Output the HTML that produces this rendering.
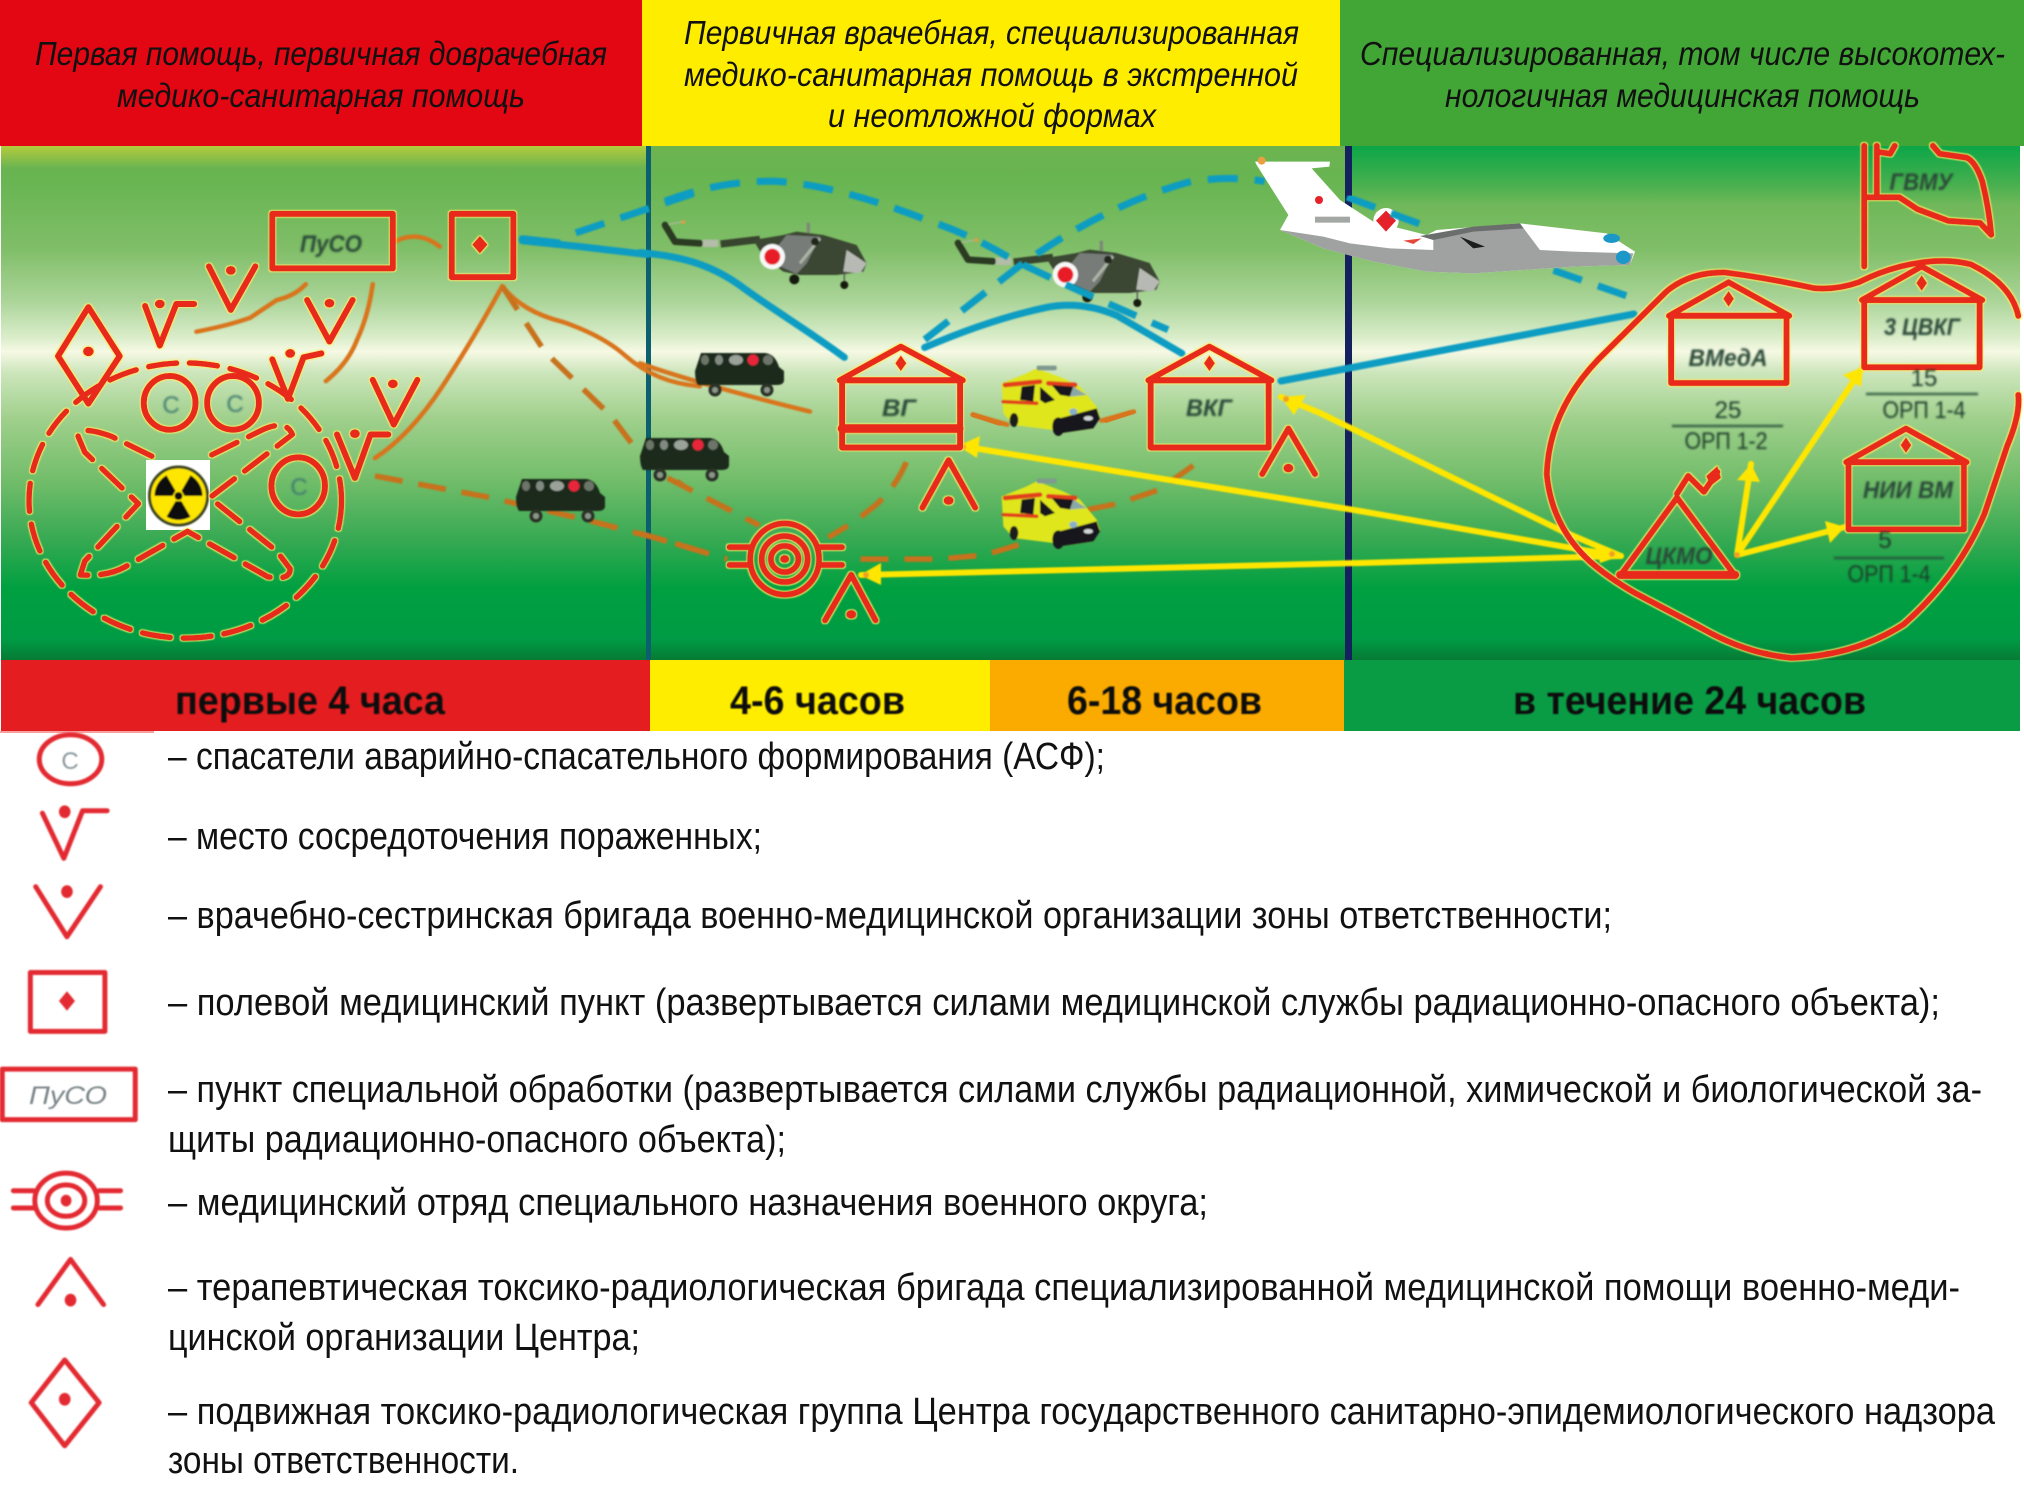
<!DOCTYPE html>
<html lang="ru"><head><meta charset="utf-8"><title>Схема</title>
<style>
html,body{margin:0;padding:0;background:#fff}
svg{display:block}
text{font-family:"Liberation Sans","DejaVu Sans",sans-serif}
.n *,#house *{vector-effect:non-scaling-stroke}
.r{fill:none;stroke:#e8291a;stroke-width:6;stroke-linecap:round;stroke-linejoin:round}
.rf{fill:#e8291a}
.o{fill:none;stroke:#d9741a;stroke-width:4.5;stroke-linecap:round;stroke-linejoin:round}
.od{fill:none;stroke:#c7721b;stroke-width:5.5;stroke-dasharray:28 16}
.rd{fill:none;stroke:#e8291a;stroke-width:5.5;stroke-dasharray:28 13;stroke-linecap:round;stroke-linejoin:round}
.t{fill:none;stroke:#0b9cc2;stroke-width:7;stroke-linecap:round;stroke-linejoin:round}
.td{fill:none;stroke:#0b9cc2;stroke-width:7;stroke-dasharray:30 17}
.y{fill:none;stroke:#ffe600;stroke-width:6;stroke-linecap:round}
.l{font-size:38px;fill:#111}
.h{font-size:33px;font-style:italic;fill:#111}
.b{font-size:40px;font-weight:bold;fill:#111}
.d{font-size:24px;font-style:italic;fill:#2a4a38;text-anchor:middle;font-weight:bold}
.e{font-size:24px;fill:#1d3a2a;text-anchor:middle}
.lg{fill:none;stroke:#e32b30;stroke-width:5;stroke-linecap:round;stroke-linejoin:round}
</style></head>
<body>
<svg xmlns="http://www.w3.org/2000/svg" width="2024" height="1489" viewBox="0 0 2024 1489">
<defs>
<linearGradient id="g" gradientUnits="userSpaceOnUse" x1="0" y1="146" x2="0" y2="660">
<stop offset="0" stop-color="#6cb350"/><stop offset=".07" stop-color="#68b552"/>
<stop offset=".2" stop-color="#80be68"/><stop offset=".3" stop-color="#aad498"/><stop offset=".37" stop-color="#d8ecc8"/>
<stop offset=".4" stop-color="#f6f9e4"/><stop offset=".44" stop-color="#cde6bc"/><stop offset=".53" stop-color="#a0d08c"/>
<stop offset=".65" stop-color="#72bd6a"/><stop offset=".76" stop-color="#3aaa54"/><stop offset=".86" stop-color="#00a040"/>
<stop offset=".96" stop-color="#009b44"/><stop offset="1" stop-color="#077a34"/>
</linearGradient>
<linearGradient id="gl" gradientUnits="userSpaceOnUse" x1="0" y1="146" x2="0" y2="168">
<stop offset="0" stop-color="#b4cc3c"/><stop offset="1" stop-color="#b4cc3c" stop-opacity="0"/>
</linearGradient>
<linearGradient id="gr" gradientUnits="userSpaceOnUse" x1="0" y1="146" x2="0" y2="205">
<stop offset="0" stop-color="#0ba648"/><stop offset="1" stop-color="#0ba648" stop-opacity="0"/>
</linearGradient>
<filter id="h" x="-3%" y="-3%" width="106%" height="106%">
<feMorphology in="SourceAlpha" operator="dilate" radius="1" result="a"/>
<feGaussianBlur in="a" stdDeviation=".6" result="b"/>
<feFlood flood-color="#ffec66" flood-opacity=".75"/>
<feComposite in2="b" operator="in" result="c"/>
<feGaussianBlur in="SourceGraphic" stdDeviation=".35" result="s"/>
<feMerge><feMergeNode in="c"/><feMergeNode in="s"/></feMerge>
</filter>
<filter id="bl" x="-5%" y="-20%" width="110%" height="140%"><feGaussianBlur stdDeviation=".9"/></filter>
<filter id="bs" x="-5%" y="-5%" width="110%" height="110%"><feGaussianBlur stdDeviation=".7"/></filter>
<filter id="bt" x="-5%" y="-5%" width="110%" height="110%"><feGaussianBlur stdDeviation="1"/></filter>
<g id="heli">
<path d="M45 75L100 65" stroke="#a8b898" stroke-width="4" fill="none"/>
<circle cx="100" cy="66" r="6" fill="#d9a040"/>
<path d="M45 75L75 125L150 130" stroke="#2c3a24" stroke-width="20" fill="none" stroke-linecap="round" stroke-linejoin="round"/>
<path d="M158 130H205" stroke="#b4bcaa" stroke-width="22" fill="none"/>
<path d="M212 132L330 118" stroke="#39452e" stroke-width="22" fill="none"/>
<path d="M475 68V102" stroke="#7f8878" stroke-width="10" fill="none"/>
<path d="M310 120L400 105L440 95L520 105L620 135L650 190L640 215L560 225L450 225L400 215L340 170Z" fill="#3a4630"/>
<path d="M410 105L510 110L470 190L440 222L350 180Z" fill="#777c78"/>
<path d="M510 115L450 190" stroke="#aab4a4" stroke-width="9" fill="none"/>
<path d="M590 150L650 190L630 220L580 215Z" fill="#b7bab4"/>
<circle cx="495" cy="125" r="12" fill="#22281e"/>
<circle cx="367" cy="170" r="38" fill="#f8f8f8"/>
<circle cx="367" cy="170" r="24" fill="#e81e25"/>
<circle cx="433" cy="238" r="15" fill="#141a10"/>
<path d="M583 215V245" stroke="#555" stroke-width="4"/>
<circle cx="583" cy="255" r="12" fill="#141a10"/>
</g>
<g id="van">
<path d="M6 2H70Q80 3 84 16L89 20V30Q88 34 82 34H3Q0 30 0 20Z" fill="#1b2a1a"/>
<ellipse cx="10" cy="9" rx="4" ry="5" fill="#6c7468"/><ellipse cx="24" cy="9" rx="4" ry="5" fill="#818a80"/>
<ellipse cx="41" cy="9" rx="7" ry="5" fill="#9aa29a"/><ellipse cx="73" cy="9" rx="5" ry="5" fill="#6c7468"/>
<circle cx="58" cy="9" r="5.5" fill="#e8283a"/>
<circle cx="20" cy="39" r="6.5" fill="#2a3228"/><circle cx="20" cy="39" r="3" fill="#8a9488"/>
<circle cx="72" cy="39" r="6.5" fill="#2a3228"/><circle cx="72" cy="39" r="3" fill="#8a9488"/>
</g>
<g id="amb">
<path d="M65 100L140 70L170 55L250 85L300 110L350 170L360 200L340 235L240 250L220 240L100 225L70 190Z" fill="#dfe61e"/>
<path d="M75 105L180 95M205 100L285 105" stroke="#e2401e" stroke-width="14" stroke-linecap="round" fill="none"/>
<path d="M70 155L170 160" stroke="#e2401e" stroke-width="11" stroke-linecap="round" fill="none"/>
<path d="M125 110L165 105L160 155L120 150Z" fill="#12181c"/>
<path d="M180 110L225 150L195 160L180 150Z" fill="#12181c"/>
<path d="M215 105L280 110L270 140L240 135Z" fill="#12181c"/>
<path d="M280 110L320 135L270 140Z" fill="#8aa8a8"/>
<path d="M220 210L350 175L360 205L340 235L240 250Z" fill="#12161a"/>
<ellipse cx="325" cy="205" rx="14" ry="7" fill="#cfd4d4"/>
<ellipse cx="280" cy="185" rx="12" ry="10" fill="#8ab0c8"/>
<ellipse cx="235" cy="230" rx="18" ry="28" fill="#12161a"/>
<ellipse cx="102" cy="210" rx="13" ry="21" fill="#1a1f1c"/>
<rect x="170" y="47" width="60" height="14" rx="5" fill="#7f9a90"/>
</g>
<g id="house">
<path d="M-133 85L0 0L135 85M-133 85H135" />
<rect x="-128" y="85" width="257" height="170"/>
<path d="M0 22L12 42L0 62L-12 42Z" fill="#e8291a" stroke="none"/>
</g>
</defs>

<!-- header -->
<rect x="0" y="0" width="642" height="146" fill="#e30613"/>
<rect x="642" y="0" width="698" height="146" fill="#ffed00"/>
<rect x="1340" y="0" width="684" height="146" fill="#41a635"/>
<text class="h" x="35" y="65" textLength="572" lengthAdjust="spacingAndGlyphs">Первая помощь, первичная доврачебная</text>
<text class="h" x="117" y="107" textLength="408" lengthAdjust="spacingAndGlyphs">медико-санитарная помощь</text>
<text class="h" x="684" y="44" textLength="615" lengthAdjust="spacingAndGlyphs">Первичная врачебная, специализированная</text>
<text class="h" x="684" y="86" textLength="614" lengthAdjust="spacingAndGlyphs">медико-санитарная помощь в экстренной</text>
<text class="h" x="828" y="127" textLength="328" lengthAdjust="spacingAndGlyphs">и неотложной формах</text>
<text class="h" x="1360" y="65" textLength="645" lengthAdjust="spacingAndGlyphs">Специализированная, том числе высокотех-</text>
<text class="h" x="1445" y="107" textLength="475" lengthAdjust="spacingAndGlyphs">нологичная медицинская помощь</text>

<!-- main band -->
<rect x="1" y="146" width="2019" height="515" fill="url(#g)"/>
<rect x="1" y="146" width="645" height="22" fill="url(#gl)"/>
<rect x="1352" y="146" width="668" height="59" fill="url(#gr)"/>
<rect x="646" y="146" width="5" height="515" fill="#0c5f6e"/>
<rect x="1345" y="146" width="7" height="515" fill="#14215e"/>

<!-- bottom bars -->
<rect x="1" y="660" width="649" height="71" fill="#e41e20"/>
<rect x="650" y="660" width="340" height="71" fill="#ffed00"/>
<rect x="990" y="660" width="354" height="71" fill="#fbab00"/>
<rect x="1344" y="660" width="676" height="71" fill="#0a9b45"/>
<rect x="0" y="731" width="154" height="2" fill="#f6a0a0"/>
<g filter="url(#bl)">
<text class="b" x="175" y="714" textLength="270" lengthAdjust="spacingAndGlyphs">первые 4 часа</text>
<text class="b" x="730" y="714" textLength="175" lengthAdjust="spacingAndGlyphs">4-6 часов</text>
<text class="b" x="1067" y="714" textLength="195" lengthAdjust="spacingAndGlyphs">6-18 часов</text>
<text class="b" x="1513" y="714" textLength="353" lengthAdjust="spacingAndGlyphs">в течение 24 часов</text>
</g>

<!-- helicopters, lower layer -->
<g filter="url(#bs)">
<use href="#heli" transform="matrix(.3333 0 0 .3333 650 200)"/>
<use href="#heli" transform="matrix(.3333 0 0 .3333 943 218)"/>
</g>

<!-- orange lines -->
<g class="n" filter="url(#bs)">
<g transform="matrix(.4464 0 0 .3954 0 130)">
<path class="o" d="M440 510Q510 495 560 475Q600 445 620 430Q660 420 685 390"/>
<path class="o" d="M730 635Q780 590 800 530Q825 470 835 390"/>
<path class="o" d="M840 830Q920 770 990 650Q1060 530 1125 395"/>
<path class="o" d="M1125 395Q1170 460 1260 485Q1350 520 1400 570Q1470 640 1568 648"/>
<path class="o" d="M880 285Q935 250 985 295"/>
<path class="od" d="M1125 395L1220 560L1370 725L1430 815L1530 900"/>
<path class="od" d="M840 875L1100 930L1310 985L1480 1035L1600 1075"/>
</g>
<g transform="matrix(.4592 0 0 .3954 640 130)">
<path class="o" d="M0 590Q120 640 370 712"/>
<path class="o" d="M725 720L800 745M1005 735L1075 712"/>
<path class="od" d="M60 880L260 1000"/>
<path class="od" d="M0 1020L190 1085"/>
<path class="od" d="M580 840Q550 920 495 965Q470 990 410 1030"/>
<path class="od" d="M480 1085H650L750 1075L850 1040"/>
<path class="od" d="M975 960L1040 945L1130 910L1215 840"/>
</g>
</g>

<!-- teal lines -->
<g class="n" filter="url(#bs)">
<g transform="matrix(.4464 0 0 .3954 0 130)">
<path class="t" d="M1170 280L1300 295L1450 315"/>
<path class="t" d="M1170 275L1250 285"/>
<path class="td" d="M1290 260L1568 155"/>
</g>
<g transform="matrix(.4592 0 0 .3954 640 130)">
<path class="t" d="M0 310C100 320 160 345 220 395C290 455 370 510 445 575"/>
<path class="td" d="M55 180Q180 125 300 130Q430 140 630 230Q720 265 800 320Q880 370 1150 505"/>
<path class="td" d="M620 530L825 345Q1010 190 1200 130Q1290 115 1360 130"/>
<path class="t" d="M620 550Q760 480 880 450Q960 430 1040 470L1180 565"/>
</g>
<path class="t" d="M1281 381L1634 314"/>
<g transform="matrix(.449 0 0 .3954 1320 130)">
<path class="td" d="M520 355L710 430"/>
</g>
</g>

<!-- plane -->
<g filter="url(#bs)" transform="matrix(.3333 0 0 .3333 1240 150)">
<path d="M45 35L270 35L268 50L215 55L300 150L400 215L560 255L590 240L840 220L1100 250L1185 305L1170 345L1000 350L700 370L560 365L400 335L250 295L120 240L145 195L50 45Z" fill="#fff"/>
<path d="M120 240L250 260L330 280L450 295L580 300L580 270L700 235L840 220L900 300L1000 305L1180 310L1170 345L1000 350L700 370L560 365L400 335L250 295Z" fill="#9fa2a0"/>
<path d="M540 258L700 230L840 220L850 235L700 245L580 270Z" fill="#6a6e6c"/>
<circle cx="438" cy="212" r="38" fill="#fff"/>
<path d="M438 182L468 212L438 245L408 212Z" fill="#e5222a"/>
<circle cx="237" cy="150" r="12" fill="#e5222a"/>
<path d="M490 272L545 265L520 282Z" fill="#e5483a"/>
<path d="M660 260L735 290L700 295Z" fill="#1c1c1c"/>
<rect x="225" y="200" width="105" height="18" fill="#a4a8a4"/>
<circle cx="65" cy="32" r="12" fill="#e8a040"/>
<ellipse cx="1115" cy="265" rx="25" ry="14" fill="#1e98c8"/>
<ellipse cx="1150" cy="322" rx="22" ry="20" fill="#1e98c8"/>
</g>
<g class="n" filter="url(#bs)"><path class="td" d="M1347 197L1428 227"/></g>

<!-- vans and ambulances -->
<g filter="url(#bs)">
<use href="#van" x="516" y="477"/>
<use href="#van" x="695" y="351"/>
<use href="#van" x="640" y="436"/>
<g transform="matrix(.3333 0 0 .3333 980 350)"><use href="#amb"/></g>
<g transform="matrix(.3333 0 0 .3333 980 463)"><use href="#amb"/></g>
</g>
<g class="n" filter="url(#bs)" transform="matrix(.4592 0 0 .3954 640 130)">
<path class="o" d="M725 720L790 745M1015 735L1075 712"/>
</g>

<!-- yellow arrows -->
<g filter="url(#bs)">
<path class="y" d="M1281 397L1320 413L1562 531L1621 556"/>
<path class="y" d="M961 446L1360 511L1589 551L1621 556"/>
<path class="y" d="M861 575L1360 563L1621 556"/>
<path class="y" d="M1737 555L1751 464M1737 555L1863 367M1737 555L1845 527"/>
<g fill="#ffe600">
<path d="M1281 397L1306 395L1294 415Z"/>
<path d="M958 446L980 436L977 458Z"/>
<path d="M860 575L881 563L881 585Z"/>
<path d="M1621 556L1595 545L1600 563Z"/>
<path d="M1751 464L1737 480L1760 482Z"/>
<path d="M1863 367L1843 375L1861 387Z"/>
<path d="M1845 527L1825 521L1830 543Z"/>
</g>
<g fill="#f0a020">
<circle cx="1286" cy="399" r="3"/><circle cx="963" cy="447" r="3"/><circle cx="866" cy="575" r="3"/><circle cx="1612" cy="554" r="3"/><circle cx="1737" cy="555" r="3"/>
</g>
</g>

<!-- radiation sign -->
<rect x="146" y="460" width="64" height="70" fill="#fff"/>
<g filter="url(#bs)">
<circle cx="178.5" cy="496" r="29" fill="#ffe600" stroke="#3a4420" stroke-width="3"/>
<path d="M175.5 501.2L166.5 516.8A24 24 0 0 0 190.5 516.8L181.5 501.2Z" fill="#111"/>
<path d="M172.5 496L154.5 496A24 24 0 0 1 166.5 475.2L175.5 490.8Z" fill="#111"/>
<path d="M184.5 496L202.5 496A24 24 0 0 0 190.5 475.2L181.5 490.8Z" fill="#111"/>
<circle cx="178.5" cy="496" r="4" fill="#111"/>
</g>

<!-- red symbols with halo -->
<g class="n" filter="url(#h)">
<g transform="matrix(.4464 0 0 .3954 0 130)">
<ellipse class="rd" cx="415" cy="937" rx="350" ry="348"/>
<path class="rd" d="M340 825L250 775Q175 745 175 775L190 815L310 945L190 1090L180 1125Q240 1130 280 1105L420 1015L600 1130Q650 1140 650 1110L620 1065L470 930L655 770Q640 730 585 760L450 835"/>
<rect class="r" x="610" y="212" width="270" height="138"/>
<rect class="r" x="1012" y="212" width="138" height="160"/>
<path class="rf" d="M1075 268L1092 290L1075 312L1058 290Z"/>
<path class="r" d="M468 345L517 455L572 345M688 430L738 535L790 430M835 632L882 745L935 632"/>
<path class="r" d="M325 445L358 545L395 440H435M610 580L645 680L680 575L720 565M755 770L795 880L830 770H870"/>
<circle class="rf" cx="517" cy="355" r="11"/><circle class="rf" cx="738" cy="438" r="11"/><circle class="rf" cx="880" cy="642" r="11"/>
<circle class="rf" cx="358" cy="440" r="11"/><circle class="rf" cx="650" cy="565" r="11"/><circle class="rf" cx="795" cy="768" r="11"/>
<path class="r" d="M198 448L268 572L198 692L130 572Z"/><circle class="rf" cx="198" cy="560" r="12"/>
<ellipse class="r" cx="380" cy="690" rx="58" ry="68"/><ellipse class="r" cx="522" cy="690" rx="58" ry="68"/><ellipse class="r" cx="668" cy="900" rx="60" ry="72"/>
</g>
<g transform="matrix(.4592 0 0 .3954 640 130)" class="r">
<use href="#house" x="568" y="548"/>
<use href="#house" x="1240" y="548"/>
<path d="M440 755H695" style="stroke-width:9"/>
<path d="M615 955L672 835L730 955M1355 870L1412 755L1470 870M403 1240L460 1125L513 1240"/>
<circle class="rf" style="stroke:none" cx="672" cy="937" r="11"/><circle class="rf" style="stroke:none" cx="1412" cy="855" r="11"/><circle class="rf" style="stroke:none" cx="460" cy="1225" r="11"/>
<ellipse cx="315" cy="1085" rx="75" ry="90"/><ellipse cx="315" cy="1085" rx="50" ry="58"/><ellipse cx="315" cy="1085" rx="30" ry="33"/>
<circle class="rf" style="stroke:none" cx="315" cy="1085" r="10"/>
<path d="M195 1055H240M195 1100H240M390 1055H440M390 1100H440"/>
</g>
<g transform="matrix(.449 0 0 .3954 1320 130)" class="r">
<path d="M1555 470Q1540 390 1450 340Q1400 325 1340 335Q1270 345 1200 385Q1150 405 1100 400Q1000 375 900 360Q820 360 770 410L620 580Q510 710 505 870Q515 1000 600 1090Q640 1130 700 1170L850 1260Q950 1325 1050 1335Q1190 1330 1300 1250Q1420 1130 1480 970L1530 800Q1560 720 1555 670"/>
<path d="M1212 40V345M1240 40V165M1212 170H1290L1330 200L1400 230L1470 235L1495 265Q1490 200 1475 130Q1460 80 1440 70L1380 60L1365 40M1240 55L1270 60L1280 40"/>
<use href="#house" x="910" y="385"/>
<use href="#house" x="1340" y="345"/>
<use href="#house" x="1305" y="755"/>
<path d="M668 1128L795 930L925 1128Z" />
<path d="M668 1125H925" style="stroke-width:8"/>
<path d="M795 920L820 875L855 915L885 865" />
<path class="rf" style="stroke:none" d="M885 850L893 880L870 900L860 875Z"/>
</g>
</g>

<!-- lines and labels inside the diagram -->
<g filter="url(#bt)">
<g stroke="#24503a" stroke-width="2.5" opacity=".85">
<path d="M1672 426H1783M1866 394H1978M1834 558H1944"/>
</g>
<text class="d" x="331" y="252" textLength="62" lengthAdjust="spacingAndGlyphs">ПуСО</text>
<text class="e" x="171" y="413" style="fill:#3f7a70">С</text><text class="e" x="235" y="412" style="fill:#3f7a70">С</text><text class="e" x="299" y="495" style="fill:#3f7a70">С</text>
<text class="d" x="899" y="416" textLength="34" lengthAdjust="spacingAndGlyphs">ВГ</text>
<text class="d" x="1209" y="416" textLength="46" lengthAdjust="spacingAndGlyphs">ВКГ</text>
<text class="d" x="1728" y="366" textLength="79" lengthAdjust="spacingAndGlyphs">ВМедА</text>
<text class="e" x="1728" y="418">25</text>
<text class="e" x="1726" y="449" textLength="83" lengthAdjust="spacingAndGlyphs">ОРП 1-2</text>
<text class="d" x="1922" y="335" textLength="76" lengthAdjust="spacingAndGlyphs">3 ЦВКГ</text>
<text class="e" x="1924" y="386">15</text>
<text class="e" x="1924" y="418" textLength="83" lengthAdjust="spacingAndGlyphs">ОРП 1-4</text>
<text class="d" x="1908" y="498" textLength="90" lengthAdjust="spacingAndGlyphs">НИИ ВМ</text>
<text class="e" x="1885" y="548">5</text>
<text class="e" x="1889" y="582" textLength="83" lengthAdjust="spacingAndGlyphs">ОРП 1-4</text>
<text class="d" x="1679" y="564" textLength="67" lengthAdjust="spacingAndGlyphs">ЦКМО</text>
<text class="d" x="1921" y="190" textLength="63" lengthAdjust="spacingAndGlyphs">ГВМУ</text>
</g>

<!-- legend icons -->
<g class="n" filter="url(#bs)">
<g transform="matrix(.4464 0 0 .4904 0 720)">
<ellipse class="lg" cx="158" cy="80" rx="70" ry="50"/>
<path class="lg" d="M95 190L143 282L185 185H240"/><circle cx="145" cy="187" r="13" fill="#e32b30"/>
<path class="lg" d="M80 340L150 442L225 340"/><circle cx="150" cy="350" r="13" fill="#e32b30"/>
<rect class="lg" x="68" y="515" width="167" height="120"/><path d="M150 553L168 573L150 593L132 573Z" fill="#e32b30"/>
<rect class="lg" x="5" y="712" width="298" height="103"/>
<ellipse class="lg" cx="148" cy="980" rx="70" ry="56"/><ellipse class="lg" cx="148" cy="980" rx="42" ry="32"/>
<circle cx="148" cy="980" r="12" fill="#e32b30"/>
<path class="lg" d="M30 960H75M30 995H75M222 960H270M222 995H270"/>
<path class="lg" d="M85 1192L158 1100L232 1192"/><circle cx="158" cy="1183" r="13" fill="#e32b30"/>
<path class="lg" d="M145 1305L222 1392L145 1480L70 1392Z"/><circle cx="145" cy="1385" r="13" fill="#e32b30"/>
</g>
<text x="70" y="769" font-size="24" fill="#8a9a9e" text-anchor="middle">С</text>
<text x="68" y="1104" font-size="25" font-style="italic" fill="#7a8488" text-anchor="middle" textLength="78" lengthAdjust="spacingAndGlyphs">ПуСО</text>
</g>

<!-- legend text -->
<text class="l" x="168" y="769" textLength="937" lengthAdjust="spacingAndGlyphs">– спасатели аварийно-спасательного формирования (АСФ);</text>
<text class="l" x="168" y="849" textLength="594" lengthAdjust="spacingAndGlyphs">– место сосредоточения пораженных;</text>
<text class="l" x="168" y="928" textLength="1444" lengthAdjust="spacingAndGlyphs">– врачебно-сестринская бригада военно-медицинской организации зоны ответственности;</text>
<text class="l" x="168" y="1015" textLength="1772" lengthAdjust="spacingAndGlyphs">– полевой медицинский пункт (развертывается силами медицинской службы  радиационно-опасного объекта);</text>
<text class="l" x="168" y="1102" textLength="1814" lengthAdjust="spacingAndGlyphs">– пункт специальной обработки (развертывается силами службы радиационной, химической и биологической за-</text>
<text class="l" x="168" y="1152" textLength="618" lengthAdjust="spacingAndGlyphs">щиты радиационно-опасного объекта);</text>
<text class="l" x="168" y="1215" textLength="1040" lengthAdjust="spacingAndGlyphs">– медицинский отряд специального назначения военного округа;</text>
<text class="l" x="168" y="1300" textLength="1792" lengthAdjust="spacingAndGlyphs">– терапевтическая токсико-радиологическая бригада специализированной медицинской помощи военно-меди-</text>
<text class="l" x="168" y="1350" textLength="472" lengthAdjust="spacingAndGlyphs">цинской организации Центра;</text>
<text class="l" x="168" y="1424" textLength="1827" lengthAdjust="spacingAndGlyphs">– подвижная токсико-радиологическая группа Центра государственного санитарно-эпидемиологического надзора</text>
<text class="l" x="168" y="1473" textLength="351" lengthAdjust="spacingAndGlyphs">зоны ответственности.</text>
</svg>
</body></html>
